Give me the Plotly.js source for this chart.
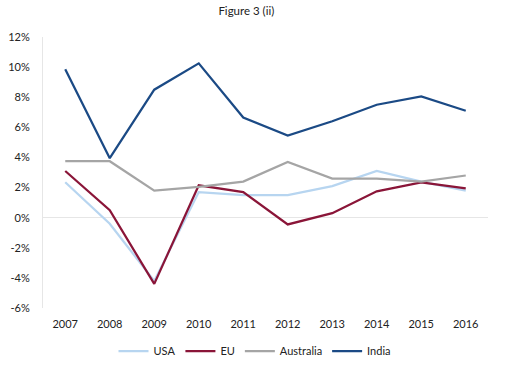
<!DOCTYPE html>
<html>
<head>
<meta charset="utf-8">
<script src="https://cdn.plot.ly/plotly-3.0.1.min.js"></script>
<style>html,body{margin:0;padding:0;background:#fff;}#chart{width:510px;height:374px;}</style>
</head>
<body>
<div id="chart"></div>
<script>
const years = ['2007','2008','2009','2010','2011','2012','2013','2014','2015','2016'];
const usa = [2.35, -0.4, -4.2, 1.7, 1.5, 1.5, 2.1, 3.1, 2.4, 1.8];
const eu = [3.1, 0.5, -4.4, 2.15, 1.7, -0.45, 0.3, 1.75, 2.35, 1.95];
const australia = [3.75, 3.75, 1.8, 2.05, 2.4, 3.7, 2.6, 2.6, 2.4, 2.8];
const india = [9.85, 3.95, 8.5, 10.25, 6.65, 5.45, 6.4, 7.5, 8.05, 7.1];
const yTickVals = [-6, -4, -2, 0, 2, 4, 6, 8, 10, 12];
const yTickText = ['-6%', '-4%', '-2%', '0%', '2%', '4%', '6%', '8%', '10%', '12%'];

const series = [
  {name: 'USA', y: usa, color: '#b7d5f0'},
  {name: 'EU', y: eu, color: '#8a1538'},
  {name: 'Australia', y: australia, color: '#a5a5a5'},
  {name: 'India', y: india, color: '#1b4a85'}
];
const traces = series.map(s => ({
  type: 'scatter', mode: 'lines', name: s.name, x: years, y: s.y,
  line: {color: s.color, width: 2.25}, hoverinfo: 'skip'
}));

const layout = {
  width: 510, height: 374,
  margin: {l: 43, r: 22, t: 37, b: 66},
  paper_bgcolor: '#ffffff', plot_bgcolor: '#ffffff',
  font: {family: 'Lato, "Open Sans", sans-serif', size: 11, color: '#222'},
  title: {text: 'Figure 3 (ii)', x: 0.483, xanchor: 'center', y: 0.97, yanchor: 'middle', font: {size: 11.5, color: '#222'}},
  showlegend: true,
  legend: {orientation: 'h', xref: 'container', yref: 'container', x: 0.5, xanchor: 'center', y: 0.061, yanchor: 'middle', font: {size: 11, color: '#222'}, itemwidth: 30, tracegroupgap: 0},
  xaxis: {type: 'category', range: [-0.5, 9.5], showgrid: false, zeroline: false, showline: false, ticks: '', ticklabelstandoff: 8, tickfont: {size: 11, color: '#222'}, automargin: false, fixedrange: true},
  yaxis: {range: [-6, 12], tickvals: yTickVals, ticktext: yTickText, showgrid: false, zeroline: true, zerolinecolor: '#e6e6e6', zerolinewidth: 1, showline: true, linecolor: '#e6e6e6', linewidth: 1, ticks: '', ticklen: 0, ticklabelstandoff: 10, tickfont: {size: 11, color: '#222'}, automargin: false, fixedrange: true}
};
Plotly.newPlot('chart', traces, layout, {displayModeBar: false, staticPlot: true});
</script>
</body>
</html>
